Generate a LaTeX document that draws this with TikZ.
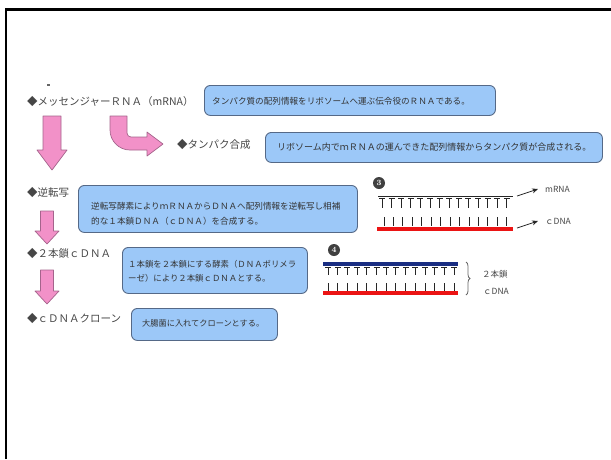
\documentclass[tikz,border=0pt]{standalone}
\usepackage{fontspec}
\newfontfamily\jp{Noto Sans CJK JP}
\usetikzlibrary{decorations.pathreplacing,arrows.meta}
\definecolor{boxfill}{RGB}{156,200,248}
\definecolor{boxdraw}{RGB}{85,105,135}
\definecolor{pinkfill}{RGB}{242,145,200}
\definecolor{pinkdraw}{RGB}{165,100,140}
\definecolor{labelgray}{RGB}{70,70,70}
\definecolor{dnablue}{RGB}{25,45,130}
\definecolor{dnared}{RGB}{235,20,20}
\begin{document}
\begin{tikzpicture}[x=1pt,y=-1pt,
  lbl/.style={font=\jp\fontsize{10.5}{12}\selectfont, text=labelgray, anchor=west, inner sep=0pt},
  boxtxt/.style={font=\jp\fontsize{8.6}{15}\selectfont, text=black!80, anchor=west, inner sep=0pt, align=left},
  infobox/.style={draw=boxdraw, fill=boxfill, rounded corners=6pt, line width=0.9pt, anchor=north west, inner sep=0pt},
  pinkarrow/.style={fill=pinkfill, draw=pinkdraw, line width=0.7pt, line join=round},
  numdisc/.style={circle, fill=black!75, text=white, inner sep=0pt, minimum size=12pt, font=\bfseries\fontsize{8}{8}\selectfont},
  tooth/.style={line width=1pt, black!85},
  smalllbl/.style={font=\jp\fontsize{8.5}{10}\selectfont, text=labelgray, anchor=west, inner sep=0pt}]
\useasboundingbox (0,0) rectangle (611,459);
% frame
\draw[line width=2.5pt] (6,459) -- (6,9.3) -- (611,9.3);
\fill[black!60] (47,84) rectangle (50,86);

% left labels
\node[lbl] (l1) at (27,102) {◆メッセンジャーＲＮＡ（mRNA）};
\node[lbl] (l2) at (177,145) {◆タンパク合成};
\node[lbl] (l3) at (27,193) {◆逆転写};
\node[lbl] (l4) at (27,254) {◆２本鎖ｃＤＮＡ};
\node[lbl] (l5) at (27,319) {◆ｃＤＮＡクローン};

% boxes
\node[infobox, minimum width=291pt, minimum height=30pt] (b1) at (204,85) {};
\node[boxtxt] (t1) at (212,101) {タンパク質の配列情報をリボソームへ運ぶ伝令役のＲＮＡである。};
\node[infobox, minimum width=337pt, minimum height=30pt] (b2) at (265,132) {};
\node[boxtxt, font=\jp\fontsize{9}{15}\selectfont] (t2) at (277,147) {リボソーム内でｍＲＮＡの運んできた配列情報からタンパク質が合成される。};
\node[infobox, minimum width=279pt, minimum height=47pt] (b3) at (78,185) {};
\node[boxtxt] (t3) at (91,214) {逆転写酵素によりｍＲＮＡからＤＮＡへ配列情報を逆転写し相補\\的な１本鎖ＤＮＡ（ｃＤＮＡ）を合成する。};
\node[infobox, minimum width=185pt, minimum height=46pt] (b4) at (122,247) {};
\node[boxtxt, font=\jp\fontsize{8.4}{13.5}\selectfont] (t4) at (128,271.5) {１本鎖を２本鎖にする酵素（ＤＮＡポリメラ\\ーゼ）により２本鎖ｃＤＮＡとする。};
\node[infobox, minimum width=146pt, minimum height=32pt] (b5) at (131,308) {};
\node[boxtxt, font=\jp\fontsize{8.2}{10}\selectfont] (t5) at (142,323) {大腸菌に入れてクローンとする。};

% pink arrows
\draw[pinkarrow] (43,116) -- (43,150) -- (37,150) -- (52,170) -- (67,150) -- (61,150) -- (61,116) -- cycle;
\draw[pinkarrow] (40.5,211) -- (40.5,231) -- (35,231) -- (47,244) -- (59,231) -- (53.5,231) -- (53.5,211) -- cycle;
\draw[pinkarrow] (40.5,270) -- (40.5,291) -- (35,291) -- (47,304) -- (59,291) -- (53.5,291) -- (53.5,270) -- cycle;
\draw[pinkarrow] (110,116) -- (110,130) .. controls (110,141) and (119,150) .. (130,150) -- (147,150) -- (147,156) -- (163,144) -- (147,132) -- (147,137) -- (131,137) .. controls (128.8,137) and (127,135.2) .. (127,133) -- (127,116) -- cycle;

% diagram 3
\node[numdisc] (n3) at (379,183) {3};
\draw[line width=1.3pt, black!85] (378,196.5) -- (513,196.5);
\foreach \i in {0,...,13} {
  \draw[tooth] ({382+9.6*\i-3},198.5) -- ({382+9.6*\i+3},198.5);
  \draw[tooth] ({382+9.6*\i},198.5) -- ({382+9.6*\i},207.5);
  \draw[tooth] ({384+9.45*\i},217) -- ({384+9.45*\i},226);
}
\draw[dnared, line width=4pt] (377,228.5) -- (513,228.5);
\coordinate (a1) at (517,196);
\coordinate (a2) at (517,228);
\node[smalllbl] (mrna) at (545,189) {mRNA};
\node[smalllbl] (cdna) at (545,221) {ｃDNA};
\draw[-{Stealth[length=6pt,width=5pt]}, line width=0.8pt, black!85] (a1) -- ([xshift=-7pt]mrna.west);
\draw[-{Stealth[length=6pt,width=5pt]}, line width=0.8pt, black!85] (a2) -- ([xshift=-7pt]cdna.west);

% diagram 4
\node[numdisc] (n4) at (334,250) {4};
\draw[dnablue, line width=4pt] (323,264) -- (458,264);
\foreach \i in {0,...,13} {
  \draw[tooth] ({328+9.7*\i-3},267.5) -- ({328+9.7*\i+3},267.5);
  \draw[tooth] ({328+9.7*\i},267.5) -- ({328+9.7*\i},275);
  \draw[tooth] ({328+9.7*\i},283) -- ({328+9.7*\i},290.5);
}
\draw[dnared, line width=4pt] (323,293) -- (458,293);
\coordinate (br1) at (466,262);
\coordinate (br2) at (466,295);
\draw[decorate, decoration={brace, amplitude=4pt}, black!60, line width=0.8pt] (br1) -- (br2);
\node[smalllbl] (ds1) at (482,274) {２本鎖};
\node[smalllbl] (ds2) at (483,291) {ｃDNA};
\end{tikzpicture}
\end{document}
